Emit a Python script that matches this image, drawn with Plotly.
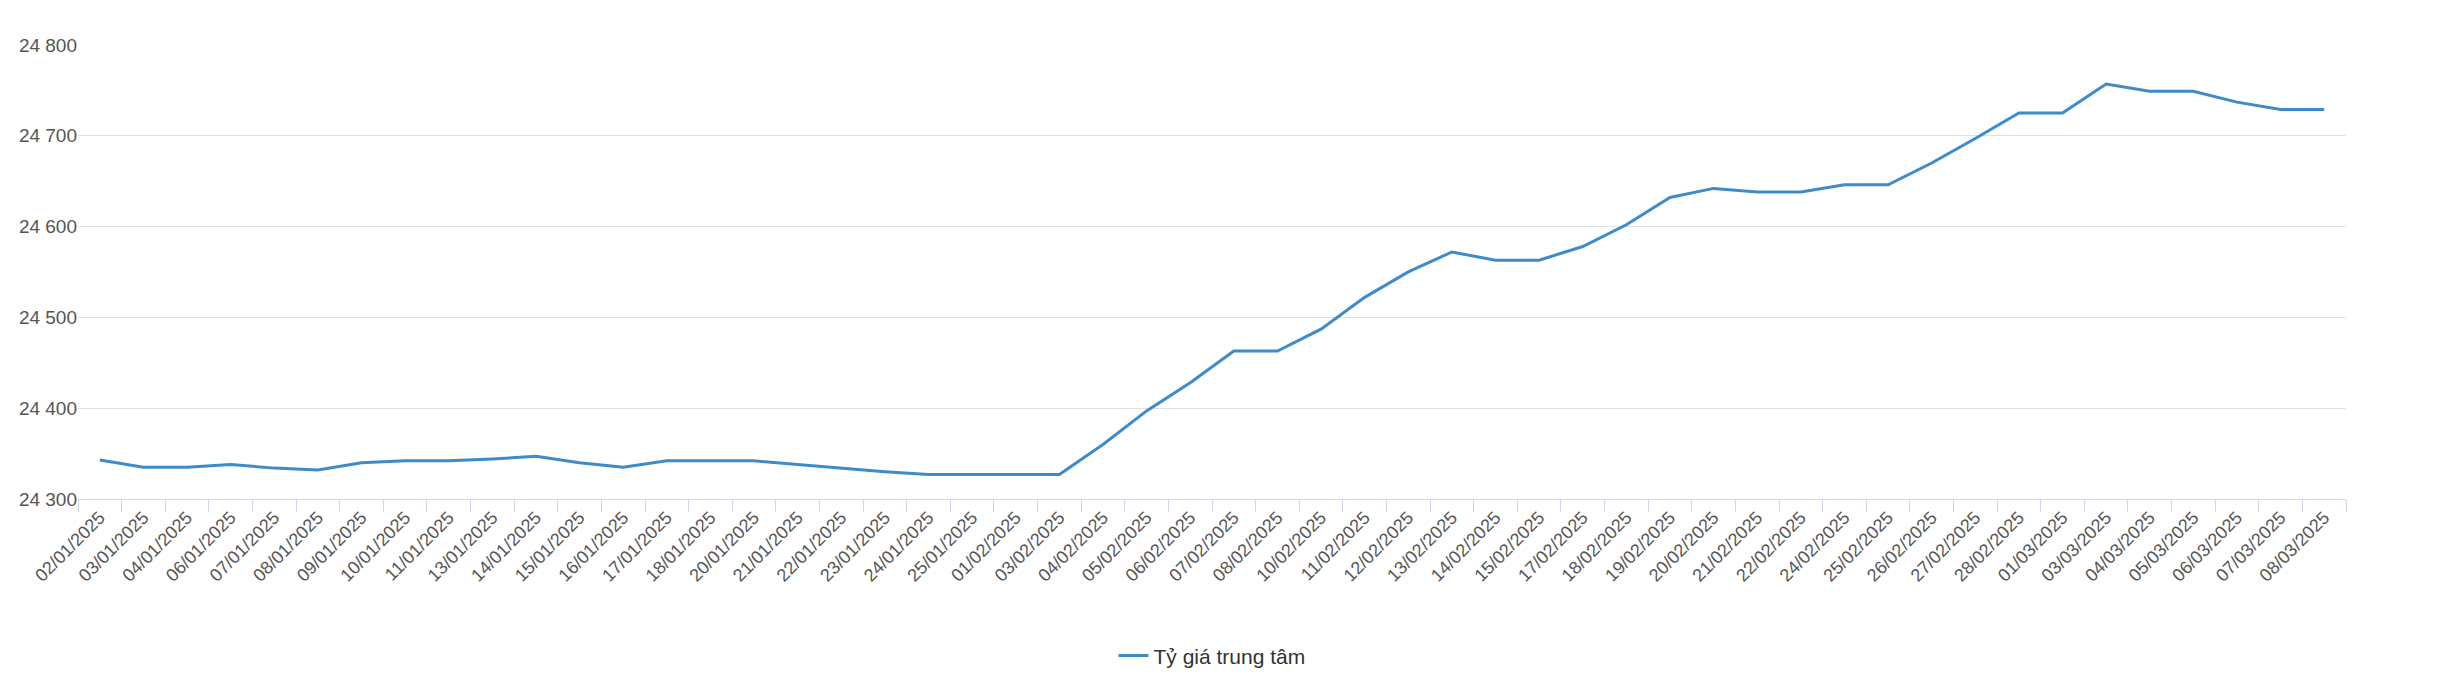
import plotly.graph_objects as go

dates = ["02/01/2025","03/01/2025","04/01/2025","06/01/2025","07/01/2025","08/01/2025","09/01/2025","10/01/2025","11/01/2025","13/01/2025","14/01/2025","15/01/2025","16/01/2025","17/01/2025","18/01/2025","20/01/2025","21/01/2025","22/01/2025","23/01/2025","24/01/2025","25/01/2025","01/02/2025","03/02/2025","04/02/2025","05/02/2025","06/02/2025","07/02/2025","08/02/2025","10/02/2025","11/02/2025","12/02/2025","13/02/2025","14/02/2025","15/02/2025","17/02/2025","18/02/2025","19/02/2025","20/02/2025","21/02/2025","22/02/2025","24/02/2025","25/02/2025","26/02/2025","27/02/2025","28/02/2025","01/03/2025","03/03/2025","04/03/2025","05/03/2025","06/03/2025","07/03/2025","08/03/2025"]
rates = [24343,24335,24335,24338,24334,24332,24340,24342,24342,24344,24347,24340,24335,24342,24342,24342,24338,24334,24330,24327,24327,24327,24327,24360,24397,24428,24463,24463,24487,24522,24550,24572,24563,24563,24578,24602,24632,24642,24638,24638,24646,24646,24670,24697,24725,24725,24757,24749,24749,24737,24729,24729]

fig = go.Figure(go.Scatter(x=dates, y=rates, mode="lines", name="Tỷ giá trung tâm",
                           line=dict(color="#3d8bc9", width=3)))
fig.update_layout(
    width=2444, height=680, paper_bgcolor="white", plot_bgcolor="white",
    margin=dict(l=70, r=106, t=36, b=174), separators=". ",
    font=dict(family="Liberation Sans, Arial", size=18, color="#555"),
    showlegend=True,
    legend=dict(orientation="h", x=0.5, xanchor="center", y=-0.345, yanchor="middle",
                font=dict(size=21, color="#333")),
)
fig.update_xaxes(type="category", tickangle=-45, ticks="outside", tickson="boundaries",
                 ticklen=12, tickcolor="#ccd6eb", showline=True, linecolor="#ccd6eb",
                 showgrid=False, tickfont=dict(size=18, color="#555"), range=[-0.5, 51.5],
                 automargin=False)
fig.update_yaxes(range=[24300, 24801], tickvals=[24300,24400,24500,24600,24700,24800],
                 tickformat=",d", gridcolor="#e0e0e0",
                 zeroline=False, ticks="", tickfont=dict(size=19, color="#555"), automargin=False)
fig.write_html("out.html")
